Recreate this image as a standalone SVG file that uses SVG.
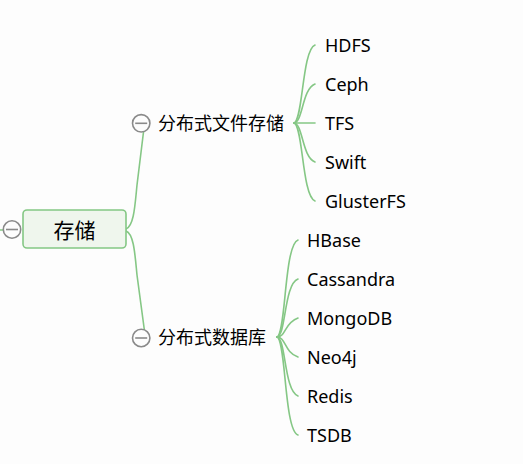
<svg xmlns="http://www.w3.org/2000/svg" width="523" height="464" viewBox="0 0 523 464">
<style>
.bg{fill:#fdfdfd}
.conn path{fill:none;stroke:#85c785;stroke-width:1.6;stroke-linecap:round}
.tog circle{fill:#fdfdfd;stroke:#8a8a8a;stroke-width:1.6}
.tog line{stroke:#8a8a8a;stroke-width:1.6}
.cjk{font-family:"Noto Sans CJK SC","Noto Sans",sans-serif;font-size:18px;fill:#000}
.lat{font-family:"Noto Sans","Open Sans",sans-serif;font-size:18px;fill:#000}
.root rect{fill:#eff6ed;stroke:#84c784;stroke-width:1.6}
</style>
<defs>
<g id="minus" class="tog"><circle cx="0" cy="0" r="8.7"/><line x1="-6" y1="0" x2="6" y2="0"/></g>
</defs>
<rect class="bg" x="0" y="0" width="523" height="464"/>
<g id="connectors" class="conn">
<path d="M0,230 L3,230"/>
<path d="M126,229 C134,226 135,205 137,185 L143.5,132"/>
<path d="M126,231 C134,234 135,255 137,275 L144.3,329.5"/>
<path d="M294,123 C303,121 302,50 315,45"/>
<path d="M294,123 C303,122 302,89 315,84"/>
<path d="M294,123 L315,123"/>
<path d="M294,123 C303,124 302,157 315,162"/>
<path d="M294,123 C303,125 302,196 315,201"/>
<path d="M277,337 C286,335 284,245 298,240"/>
<path d="M277,337 C286,336 284,284 298,279"/>
<path d="M277,337 C286,337 284,323 298,318"/>
<path d="M277,337 C286,337 284,352 298,357"/>
<path d="M277,337 C286,338 284,391 298,396"/>
<path d="M277,337 C286,339 284,430 298,435"/>
</g>
<g id="root" class="root">
<rect x="23" y="210" width="103" height="38" rx="4"/>
<text class="cjk" x="74.5" y="238" text-anchor="middle" style="font-size:21px">存储</text>
<use href="#minus" x="12" y="229.5"/>
</g>
<g id="n-file">
<use href="#minus" x="141.2" y="123.3"/>
<text class="cjk" x="158" y="130">分布式文件存储</text>
</g>
<g id="n-db">
<use href="#minus" x="141.2" y="338"/>
<text class="cjk" x="158" y="344">分布式数据库</text>
</g>
<g id="n-hdfs"><text class="lat" x="325" y="52">HDFS</text></g>
<g id="n-ceph"><text class="lat" x="325" y="91">Ceph</text></g>
<g id="n-tfs"><text class="lat" x="325" y="130">TFS</text></g>
<g id="n-swift"><text class="lat" x="325" y="169">Swift</text></g>
<g id="n-gluster"><text class="lat" x="325" y="208">GlusterFS</text></g>
<g id="n-hbase"><text class="lat" x="307" y="247">HBase</text></g>
<g id="n-cassandra"><text class="lat" x="307" y="286">Cassandra</text></g>
<g id="n-mongo"><text class="lat" x="307" y="325">MongoDB</text></g>
<g id="n-neo4j"><text class="lat" x="307" y="364">Neo4j</text></g>
<g id="n-redis"><text class="lat" x="307" y="403">Redis</text></g>
<g id="n-tsdb"><text class="lat" x="307" y="442">TSDB</text></g>
</svg>
